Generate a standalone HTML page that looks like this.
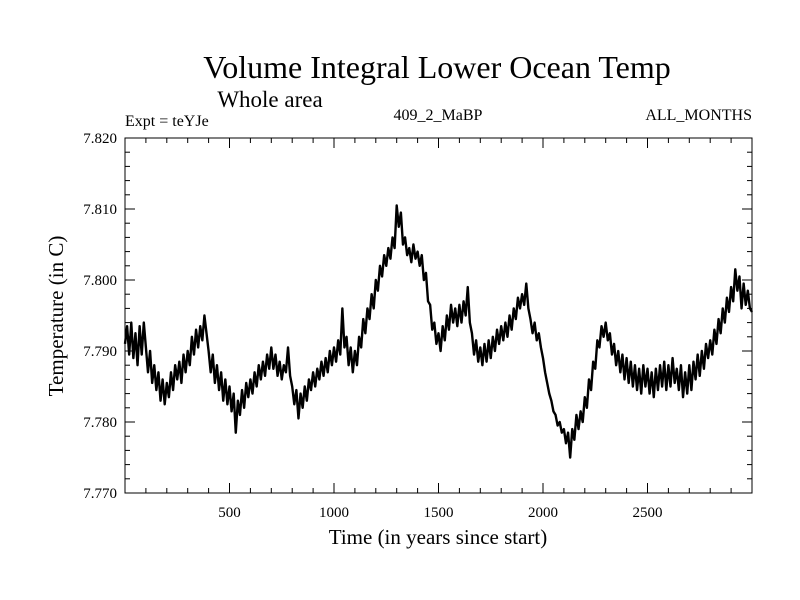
<!DOCTYPE html>
<html><head><meta charset="utf-8"><style>
body{margin:0;background:#fff}
svg{display:block;font-family:"Liberation Serif",serif}
</style></head><body>
<svg id="chart" width="800" height="600" xmlns="http://www.w3.org/2000/svg">
<text x="437" y="78" font-size="32" text-anchor="middle">Volume Integral Lower Ocean Temp</text>
<text x="270" y="107" font-size="23" text-anchor="middle">Whole area</text>
<text x="125" y="126" font-size="16">Expt = teYJe</text>
<text x="438" y="120" font-size="16" text-anchor="middle">409_2_MaBP</text>
<text x="752" y="120" font-size="16" text-anchor="end">ALL_MONTHS</text>
<text x="438" y="544" font-size="21" text-anchor="middle">Time (in years since start)</text>
<text transform="translate(63,316) rotate(-90)" font-size="21" text-anchor="middle">Temperature (in C)</text>
<g id="ticks"></g>
<path id="series" fill="none" stroke="#000" stroke-width="2.4" stroke-linejoin="round"/>
<rect x="125" y="138" width="627" height="355" fill="none" stroke="#000" stroke-width="1"/>
</svg>
<script>
const xTicks=[500,1000,1500,2000,2500];
const yTicks=[7.770,7.780,7.790,7.800,7.810,7.820];
const yTickLabels=["7.770","7.780","7.790","7.800","7.810","7.820"];
const years0=0, yearStep=10;
const temps=[
7.7910,7.7935,7.7895,7.7940,7.7890,7.7925,7.7880,7.7935,7.7895,7.7940,
7.7905,7.7870,7.7900,7.7855,7.7880,7.7845,7.7870,7.7830,7.7860,7.7825,
7.7855,7.7835,7.7870,7.7845,7.7880,7.7860,7.7885,7.7855,7.7895,7.7870,
7.7900,7.7880,7.7920,7.7895,7.7930,7.7905,7.7935,7.7915,7.7950,7.7925,
7.7900,7.7870,7.7895,7.7855,7.7880,7.7845,7.7870,7.7830,7.7860,7.7825,
7.7850,7.7815,7.7840,7.7785,7.7830,7.7810,7.7845,7.7820,7.7855,7.7835,
7.7860,7.7840,7.7870,7.7850,7.7880,7.7860,7.7885,7.7865,7.7895,7.7875,
7.7905,7.7875,7.7895,7.7865,7.7885,7.7860,7.7880,7.7870,7.7905,7.7865,
7.7850,7.7825,7.7845,7.7805,7.7840,7.7820,7.7850,7.7830,7.7860,7.7845,
7.7870,7.7850,7.7875,7.7860,7.7885,7.7865,7.7890,7.7870,7.7900,7.7880,
7.7905,7.7885,7.7915,7.7895,7.7960,7.7905,7.7920,7.7880,7.7905,7.7870,
7.7900,7.7880,7.7920,7.7905,7.7945,7.7925,7.7960,7.7945,7.7980,7.7960,
7.8000,7.7985,7.8020,7.8005,7.8035,7.8020,7.8045,7.8030,7.8060,7.8045,
7.8105,7.8075,7.8095,7.8050,7.8060,7.8035,7.8045,7.8025,7.8050,7.8030,
7.8040,7.8020,7.8035,7.8000,7.8010,7.7970,7.7965,7.7930,7.7940,7.7910,
7.7925,7.7900,7.7935,7.7915,7.7950,7.7930,7.7965,7.7940,7.7960,7.7935,
7.7965,7.7940,7.7970,7.7950,7.7990,7.7940,7.7925,7.7895,7.7915,7.7885,
7.7905,7.7880,7.7910,7.7885,7.7915,7.7890,7.7920,7.7900,7.7930,7.7910,
7.7935,7.7915,7.7940,7.7920,7.7950,7.7930,7.7960,7.7945,7.7975,7.7960,
7.7980,7.7965,7.7995,7.7960,7.7945,7.7925,7.7940,7.7915,7.7925,7.7905,
7.7890,7.7870,7.7855,7.7840,7.7830,7.7815,7.7810,7.7795,7.7800,7.7785,
7.7790,7.7770,7.7785,7.7750,7.7790,7.7775,7.7810,7.7790,7.7815,7.7800,
7.7835,7.7820,7.7860,7.7845,7.7885,7.7875,7.7915,7.7905,7.7935,7.7920,
7.7940,7.7915,7.7925,7.7895,7.7910,7.7880,7.7900,7.7870,7.7895,7.7860,
7.7890,7.7855,7.7885,7.7850,7.7880,7.7845,7.7875,7.7840,7.7880,7.7850,
7.7875,7.7840,7.7870,7.7835,7.7875,7.7845,7.7880,7.7850,7.7885,7.7845,
7.7880,7.7850,7.7890,7.7855,7.7875,7.7845,7.7880,7.7835,7.7870,7.7840,
7.7880,7.7845,7.7885,7.7860,7.7895,7.7865,7.7900,7.7875,7.7910,7.7890,
7.7915,7.7895,7.7930,7.7910,7.7945,7.7925,7.7960,7.7940,7.7975,7.7955,
7.7990,7.7970,7.8015,7.7985,7.8005,7.7960,7.7995,7.7965,7.7985,7.7960,
7.7955];
const X0=125,X1=752,Y0=493,Y1=138,xMin=0,xMax=3000,yMin=7.770,yMax=7.820;
const sx=v=>X0+(v-xMin)/(xMax-xMin)*(X1-X0);
const sy=v=>Y0-(v-yMin)/(yMax-yMin)*(Y0-Y1);
const NS="http://www.w3.org/2000/svg";
const g=document.getElementById('ticks');
function line(x1,y1,x2,y2,name){const l=document.createElementNS(NS,'line');
l.setAttribute('x1',x1);l.setAttribute('y1',y1);l.setAttribute('x2',x2);l.setAttribute('y2',y2);
l.setAttribute('stroke','#000');l.setAttribute('stroke-width','1');


g.appendChild(l);}
function text(x,y,s,anchor,name){const t=document.createElementNS(NS,'text');
t.setAttribute('x',x);t.setAttribute('y',y);t.setAttribute('font-size','15');t.setAttribute('text-anchor',anchor);t.textContent=s;


g.appendChild(t);}
for(let v=100;v<3000;v+=100){const x=sx(v);const major=v%500===0;const L=major?10:5;
line(x,Y0,x,Y0-L,'x-tick');line(x,Y1,x,Y1+L,'x-tick-top');}
xTicks.forEach(v=>text(sx(v),517,String(v),'middle','x-tick-label'));
for(let i=0;i<=25;i++){const v=yMin+i*0.002;const y=sy(v);const major=i%5===0;const L=major?10:5;
line(X0,y,X0+L,y,'y-tick');line(X1,y,X1-L,y,'y-tick-right');}
yTicks.forEach((v,i)=>text(117,sy(v)+5,yTickLabels[i],'end','y-tick-label'));
let d='';temps.forEach((t,i)=>{d+=(i?'L':'M')+sx(years0+i*yearStep).toFixed(2)+','+sy(t).toFixed(2);});
document.getElementById('series').setAttribute('d',d);
</script>
</body></html>
